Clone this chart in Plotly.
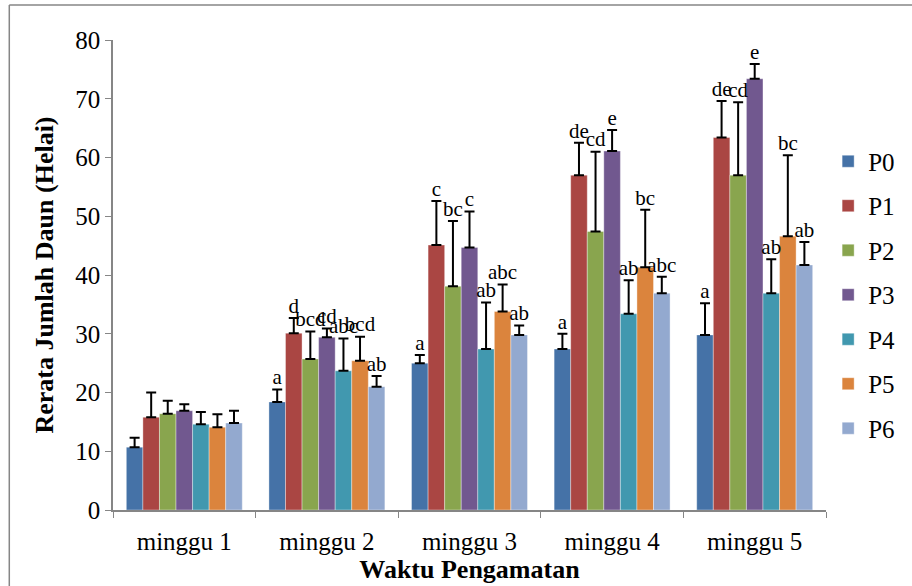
import plotly.graph_objects as go

categories = ["minggu 1", "minggu 2", "minggu 3", "minggu 4", "minggu 5"]
series_names = ["P0", "P1", "P2", "P3", "P4", "P5", "P6"]

P0 = [10.7, 18.4, 25.0, 27.4, 29.8]
P1 = [15.8, 30.1, 45.1, 57.0, 63.4]
P2 = [16.4, 25.7, 38.1, 47.4, 57.0]
P3 = [16.9, 29.4, 44.7, 61.1, 73.4]
P4 = [14.6, 23.7, 27.4, 33.4, 36.9]
P5 = [14.1, 25.4, 33.8, 41.3, 46.6]
P6 = [14.8, 21.0, 29.8, 36.9, 41.7]

SD0 = [1.6, 2.1, 1.4, 2.6, 5.4]
SD1 = [4.2, 2.6, 7.5, 5.5, 6.2]
SD2 = [2.2, 4.7, 11.1, 13.6, 12.4]
SD3 = [1.1, 1.5, 6.1, 3.6, 2.5]
SD4 = [2.1, 5.5, 7.9, 5.7, 5.8]
SD5 = [2.2, 4.1, 4.6, 9.8, 13.8]
SD6 = [2.1, 1.8, 1.6, 2.8, 3.9]

L0 = ["", "a", "a", "a", "a"]
L1 = ["", "d", "c", "de", "de"]
L2 = ["", "bcd", "bc", "cd", "cd"]
L3 = ["", "cd", "c", "e", "e"]
L4 = ["", "abc", "ab", "ab", "ab"]
L5 = ["", "bcd", "abc", "bc", "bc"]
L6 = ["", "ab", "ab", "abc", "ab"]

values = [P0, P1, P2, P3, P4, P5, P6]
sds = [SD0, SD1, SD2, SD3, SD4, SD5, SD6]
letters = [L0, L1, L2, L3, L4, L5, L6]
colors = ["#4572A7", "#AA4643", "#89A54E", "#71588F", "#4198AF", "#DB843D", "#93A9CF"]

FONT = "Liberation Serif"

fig = go.Figure()
for i, name in enumerate(series_names):
    fig.add_trace(go.Bar(
        x=categories, y=values[i], name=name,
        marker=dict(color=colors[i], line=dict(color="rgba(255,255,255,0.6)", width=0.6)),
        error_y=dict(type="data", array=sds[i], arrayminus=[0] * len(sds[i]), symmetric=False,
                     color="black", thickness=2, width=5),
        offsetgroup=str(i), legendgroup=name,
    ))
for i, name in enumerate(series_names):
    tops = [v + s for v, s in zip(values[i], sds[i])]
    fig.add_trace(go.Scatter(
        x=categories, y=tops, mode="text", text=letters[i],
        textposition="top center", textfont=dict(family=FONT, size=21, color="black"),
        offsetgroup=str(i), showlegend=False, hoverinfo="skip",
    ))

fig.update_layout(
    width=912, height=586,
    margin=dict(l=113, r=84, t=40, b=76),
    barmode="group", bargap=0.187, bargroupgap=0,
    scattermode="group", scattergap=0.187,
    plot_bgcolor="white", paper_bgcolor="white",
    font=dict(family=FONT, size=24, color="black"),
    showlegend=True,
    legend=dict(x=1.003, xanchor="left", y=0.4575, yanchor="middle",
                font=dict(family=FONT, size=25, color="black"),
                tracegroupgap=9, bgcolor="rgba(0,0,0,0)"),
    xaxis=dict(
        showline=True, linecolor="#868686", linewidth=1.5,
        ticks="outside", tickson="boundaries", ticklen=6, tickcolor="#868686",
        tickfont=dict(family=FONT, size=25), ticklabelstandoff=8,
        title=dict(text="<b>Waktu Pengamatan</b>", font=dict(family=FONT, size=26), standoff=2),
        showgrid=False,
    ),
    yaxis=dict(
        range=[0, 80], dtick=10, showline=True, linecolor="#868686", linewidth=1.5,
        ticks="outside", ticklen=6, tickcolor="#868686",
        tickfont=dict(family=FONT, size=25),
        title=dict(text="<b>Rerata Jumlah Daun (Helai)</b>", font=dict(family=FONT, size=26), standoff=14),
        showgrid=False, zeroline=False,
    ),
    shapes=[
        dict(type="line", xref="paper", yref="paper", x0=(9 - 113) / 715, x1=(9 - 113) / 715,
             y0=(510 - 5) / 470, y1=(510 - 600) / 470, line=dict(color="#868686", width=1.5)),
        dict(type="line", xref="paper", yref="paper", x0=(9 - 113) / 715, x1=(920 - 113) / 715,
             y0=(510 - 5) / 470, y1=(510 - 5) / 470, line=dict(color="#868686", width=1.5)),
    ],
)

fig.write_html("out.html")
